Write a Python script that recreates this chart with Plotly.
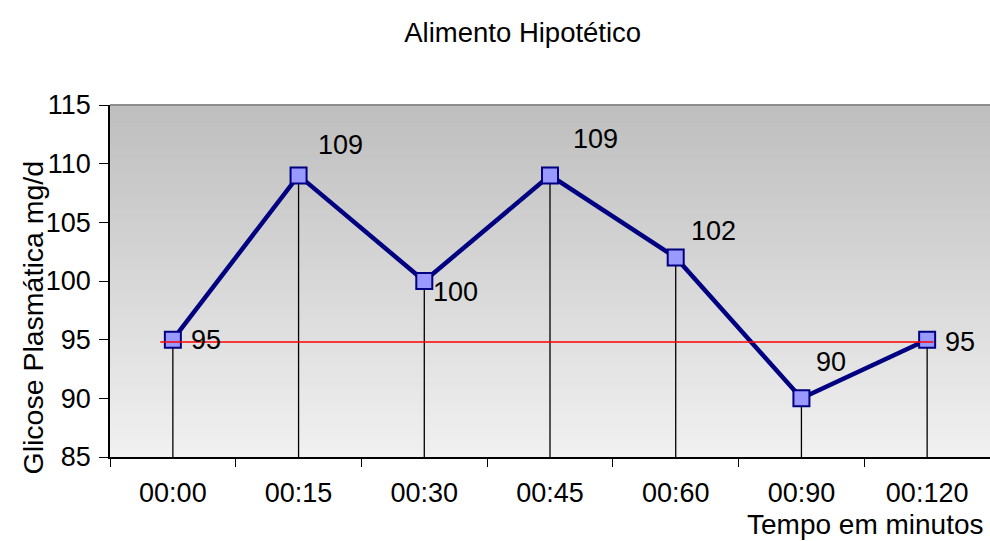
import plotly.graph_objects as go

# Plasma glucose readings after a hypothetical food
times = ["00:00", "00:15", "00:30", "00:45", "00:60", "00:90", "00:120"]
glucose = [95, 109, 100, 109, 102, 90, 95]
baseline = 94.8          # fasting reference level
y_min, y_max = 85, 115

title_text = "Alimento Hipotético"
x_title = "Tempo em minutos"
y_title = "Glicose Plasmática mg/d"

# label placement relative to each marker centre (px right, px down)
label_offsets = [(16, 0), (17, -30), (7, 11), (21, -36), (13, -27), (13, -36), (16, 2)]

FONT = "Liberation Sans, Arial, sans-serif"
NAVY = "#000080"

fig = go.Figure()

# vertical drop lines from each reading to the axis floor
drop_x, drop_y = [], []
for t, v in zip(times, glucose):
    drop_x += [t, t, None]
    drop_y += [y_min, v, None]
fig.add_trace(go.Scatter(x=drop_x, y=drop_y, mode="lines",
                         line=dict(color="#000000", width=1.3),
                         hoverinfo="skip", showlegend=False))

# glucose curve
fig.add_trace(go.Scatter(
    x=times, y=glucose, mode="lines+markers",
    line=dict(color=NAVY, width=4.5),
    marker=dict(symbol="square", size=16, color="#9999FF",
                line=dict(color=NAVY, width=2)),
    showlegend=False))

shapes = []
# vertical grey gradient behind the plot
n = 80
top, bottom = 190, 241
for i in range(n):
    f = (i + 0.5) / n
    c = round(bottom + (top - bottom) * f)
    shapes.append(dict(type="rect", xref="paper", yref="paper",
                       x0=0, x1=1, y0=i / n, y1=(i + 1) / n + 0.002,
                       fillcolor=f"rgb({c},{c},{c})", line=dict(width=0),
                       layer="below"))
# top frame edge
shapes.append(dict(type="line", xref="paper", yref="paper", x0=0, x1=1,
                   y0=1, y1=1, line=dict(color="#8c8c8c", width=2),
                   layer="below"))
# baseline reference line
shapes.append(dict(type="line", xref="x", yref="y", x0=-0.1, x1=6.05,
                   y0=baseline, y1=baseline,
                   line=dict(color="#ff0000", width=1.5), layer="above"))

annotations = []
for t, v, (dx, dy) in zip(times, glucose, label_offsets):
    annotations.append(dict(x=t, y=v, xref="x", yref="y", text=str(v),
                            showarrow=False, xanchor="left", yanchor="middle",
                            xshift=dx, yshift=-dy,
                            font=dict(family=FONT, size=27, color="#000000")))
annotations.append(dict(x=0.996, y=-0.193, xref="paper", yref="paper",
                        text=x_title, showarrow=False, xanchor="right",
                        yanchor="middle",
                        font=dict(family=FONT, size=28, color="#000000")))
annotations.append(dict(x=-0.088, y=0.395, xref="paper", yref="paper",
                        text=y_title, showarrow=False, textangle=-90,
                        xanchor="center", yanchor="middle",
                        font=dict(family=FONT, size=28.5, color="#000000")))

fig.update_layout(
    width=990, height=541,
    margin=dict(l=110, r=0, t=105, b=84),
    paper_bgcolor="#ffffff", plot_bgcolor="rgba(0,0,0,0)",
    title=dict(text=title_text, x=0.528, xanchor="center", y=0.941,
               yanchor="middle",
               font=dict(family=FONT, size=27.5, color="#000000")),
    font=dict(family=FONT, size=27, color="#000000"),
    shapes=shapes, annotations=annotations,
    xaxis=dict(type="category", range=[-0.5, 6.5], showline=True,
               linecolor="#000000", linewidth=1.5, ticks="outside",
               tickson="boundaries", ticklen=8, tickcolor="#000000",
               tickwidth=1.2, showgrid=False, zeroline=False,
               ticklabelstandoff=11,
               tickfont=dict(family=FONT, size=27)),
    yaxis=dict(range=[y_min, y_max], dtick=5, showline=True,
               linecolor="#000000", linewidth=1.5, ticks="outside",
               ticklen=9, tickcolor="#000000", tickwidth=1.2,
               showgrid=False, zeroline=False, ticklabelstandoff=3,
               tickfont=dict(family=FONT, size=27)),
)

fig.write_html("out.html")
